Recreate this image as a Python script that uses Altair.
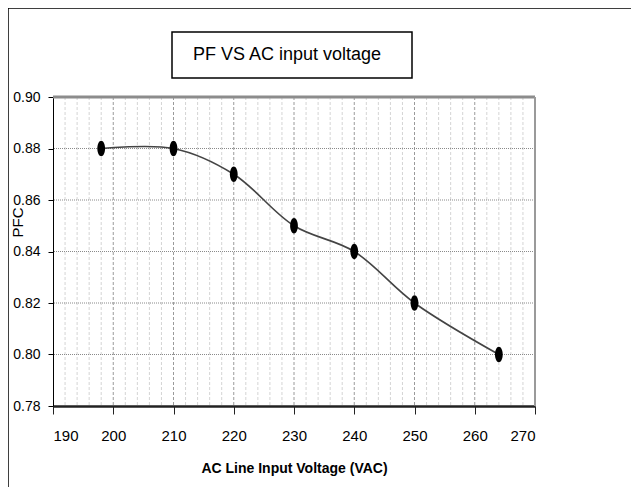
import altair as alt
import pandas as pd

# ---- data ----
voltage = [198, 210, 220, 230, 240, 250, 264]
pf = [0.88, 0.88, 0.87, 0.85, 0.84, 0.82, 0.80]

x_ticks = [190, 200, 210, 220, 230, 240, 250, 260, 270]
y_ticks = [0.78, 0.80, 0.82, 0.84, 0.86, 0.88, 0.90]
x_minor_grid = [v for v in range(192, 270, 2) if v % 10 != 0]
x_major_grid = [200, 210, 220, 230, 240, 250, 260]
y_grid = [0.80, 0.82, 0.84, 0.86, 0.88]

title_text = "PF VS AC input voltage"
x_title = "AC Line Input Voltage (VAC)"
y_title = "PFC"

W, H = 482, 309
SANS = "Liberation Sans, Arial, sans-serif"

xs = alt.Scale(domain=[190, 270], nice=False, zero=False)
ys = alt.Scale(domain=[0.78, 0.90], nice=False, zero=False)

df = pd.DataFrame({"v": voltage, "pf": pf})
one = pd.DataFrame({"k": [0]})

x_axis = alt.Axis(
    values=x_ticks, title=x_title, format="d", grid=False,
    domainColor="#222222", domainWidth=2.5,
    tickColor="#222222", tickSize=8, tickWidth=1,
    labelFont=SANS, labelFontSize=15, labelColor="black",
    labelPadding=14,
    titleFont=SANS, titleFontSize=14, titleFontWeight="bold",
    titleColor="black", titleBaseline="middle", titleY=62,
)
y_axis = alt.Axis(
    values=y_ticks, title=y_title, format=".2f", grid=False,
    domainColor="black", domainWidth=1,
    tickColor="black", tickSize=5,
    labelFont=SANS, labelFontSize=14, labelColor="black",
    labelPadding=8,
    titleFont=SANS, titleFontSize=15,
    titleFontWeight="normal", titleColor="black",
    titleAngle=270, titleAlign="center", titleBaseline="middle",
    titleX=-36, titleY=125,
)

base = alt.Chart(df).encode(
    x=alt.X("v:Q", scale=xs, axis=x_axis),
    y=alt.Y("pf:Q", scale=ys, axis=y_axis),
)

minor = alt.Chart(pd.DataFrame({"v": x_minor_grid})).mark_rule(
    color="#d4d4d4", strokeDash=[3, 2], strokeWidth=1
).encode(x=alt.X("v:Q", scale=xs))

major = alt.Chart(pd.DataFrame({"v": x_major_grid})).mark_rule(
    color="#9a9a9a", strokeDash=[3, 2], strokeWidth=1
).encode(x=alt.X("v:Q", scale=xs))

hgrid = alt.Chart(pd.DataFrame({"pf": y_grid})).mark_rule(
    color="#8a8a8a", strokeDash=[1, 1], strokeWidth=1
).encode(y=alt.Y("pf:Q", scale=ys))

top_border = alt.Chart(pd.DataFrame({"pf": [0.90]})).mark_rule(
    color="#8c8c8c", strokeWidth=3
).encode(y=alt.Y("pf:Q", scale=ys))

right_border = alt.Chart(pd.DataFrame({"v": [270]})).mark_rule(
    color="#9a9a9a", strokeWidth=2
).encode(x=alt.X("v:Q", scale=xs))

line = base.mark_line(interpolate="catmull-rom", color="#444444", strokeWidth=1.6)
points = base.mark_point(
    shape="M0,-1A0.5,1,0,1,1,0,1A0.5,1,0,1,1,0,-1Z",
    size=240, filled=True, color="black", opacity=1,
)

frame = alt.Chart(one).mark_rect(
    fill="transparent", stroke="black", strokeWidth=1.5
).encode(
    x=alt.value(-45), x2=alt.value(W + 300),
    y=alt.value(-89), y2=alt.value(H + 300),
)

title_box = alt.Chart(one).mark_rect(
    fill="white", stroke="black", strokeWidth=1.5
).encode(
    x=alt.value(119), x2=alt.value(359),
    y=alt.value(-65), y2=alt.value(-19),
)

title = alt.Chart(pd.DataFrame({"t": [title_text]})).mark_text(
    align="left", baseline="middle", font=SANS,
    fontSize=18, color="black",
).encode(x=alt.value(140), y=alt.value(-42), text="t:N")

chart = alt.layer(
    base.mark_line(opacity=0),
    minor, major, hgrid, top_border, right_border,
    line, points, frame, title_box, title,
).properties(
    width=W, height=H,
    padding={"left": 45, "top": 89, "right": 96, "bottom": 81},
    autosize=alt.AutoSizeParams(type="none"),
).configure_view(strokeWidth=0)

chart.save("out.html", embed_options={"renderer": "svg", "actions": False})
